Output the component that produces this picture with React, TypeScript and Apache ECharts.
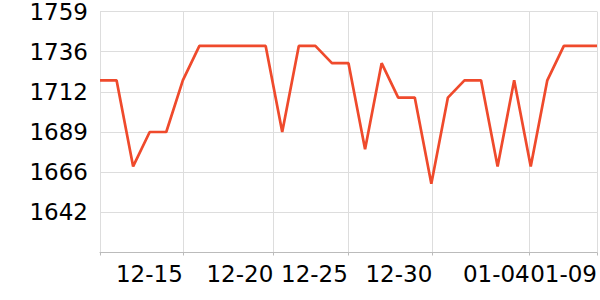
import React, { useEffect, useRef } from "react";
import * as echarts from "echarts";

// 31 daily readings, one per category step along the x axis
const values: number[] = [
  1719, 1719, 1669, 1689, 1689, 1719, 1739, 1739, 1739, 1739, 1739,
  1689, 1739, 1739, 1729, 1729, 1679, 1729, 1709, 1709, 1659, 1709,
  1719, 1719, 1669, 1719, 1669, 1719, 1739, 1739, 1739,
];

// x-axis ticks (in step units) and their labels
const tickPositions: number[] = [0, 5, 10.46, 14.96, 20.06, 25.94, 30];
const tickLabels: string[] = ["12-10", "12-15", "12-20", "12-25", "12-30", "01-04", "01-09"];
const labelPositions: number[] = tickPositions.slice(1);

const yMin = 1619;
const yMax = 1759;
const ySplits = 6;

export default function App() {
  const ref = useRef<HTMLDivElement>(null);
  useEffect(() => {
    if (!ref.current) return;
    const chart = echarts.init(ref.current, undefined, { renderer: "svg" });
    const font = "DejaVu Sans";
    chart.setOption({
      animation: false,
      grid: { left: 100, right: 0, top: 10, bottom: 47.5, containLabel: false },
      xAxis: {
        type: "value",
        min: 0,
        max: values.length - 1,
        axisLine: { show: true, lineStyle: { color: "#bbbbbb", width: 1 } },
        axisTick: { show: true, length: 3, customValues: tickPositions, lineStyle: { color: "#bbbbbb" } },
        splitLine: { show: true, lineStyle: { color: "#dddddd", width: 1 } },
        axisLabel: {
          customValues: labelPositions,
          align: "right",
          margin: 10,
          fontSize: 23,
          fontFamily: font,
          color: "#000",
          formatter: (v: number) => {
            const i = tickPositions.findIndex((p) => Math.abs(p - v) < 1e-6);
            return i >= 0 ? tickLabels[i] : "";
          },
        },
      },
      yAxis: {
        type: "value",
        min: yMin,
        max: yMax,
        interval: (yMax - yMin) / ySplits,
        axisLine: { show: false },
        axisTick: { show: false },
        splitLine: { show: true, lineStyle: { color: "#dddddd", width: 1 } },
        axisLabel: {
          showMinLabel: false,
          margin: 12,
          fontSize: 23,
          fontFamily: font,
          color: "#000",
          formatter: (v: number) => String(Math.round(v)),
        },
      },
      series: [
        {
          type: "line",
          data: values.map((v, i) => [i, v]),
          showSymbol: false,
          symbol: "none",
          lineStyle: { color: "#ef4a2c", width: 2.7 },
          itemStyle: { color: "#ef4a2c" },
        },
      ],
    });
    return () => chart.dispose();
  }, []);
  return <div ref={ref} style={{ width: 600, height: 300, position: "absolute", left: 0, top: 0 }} />;
}
